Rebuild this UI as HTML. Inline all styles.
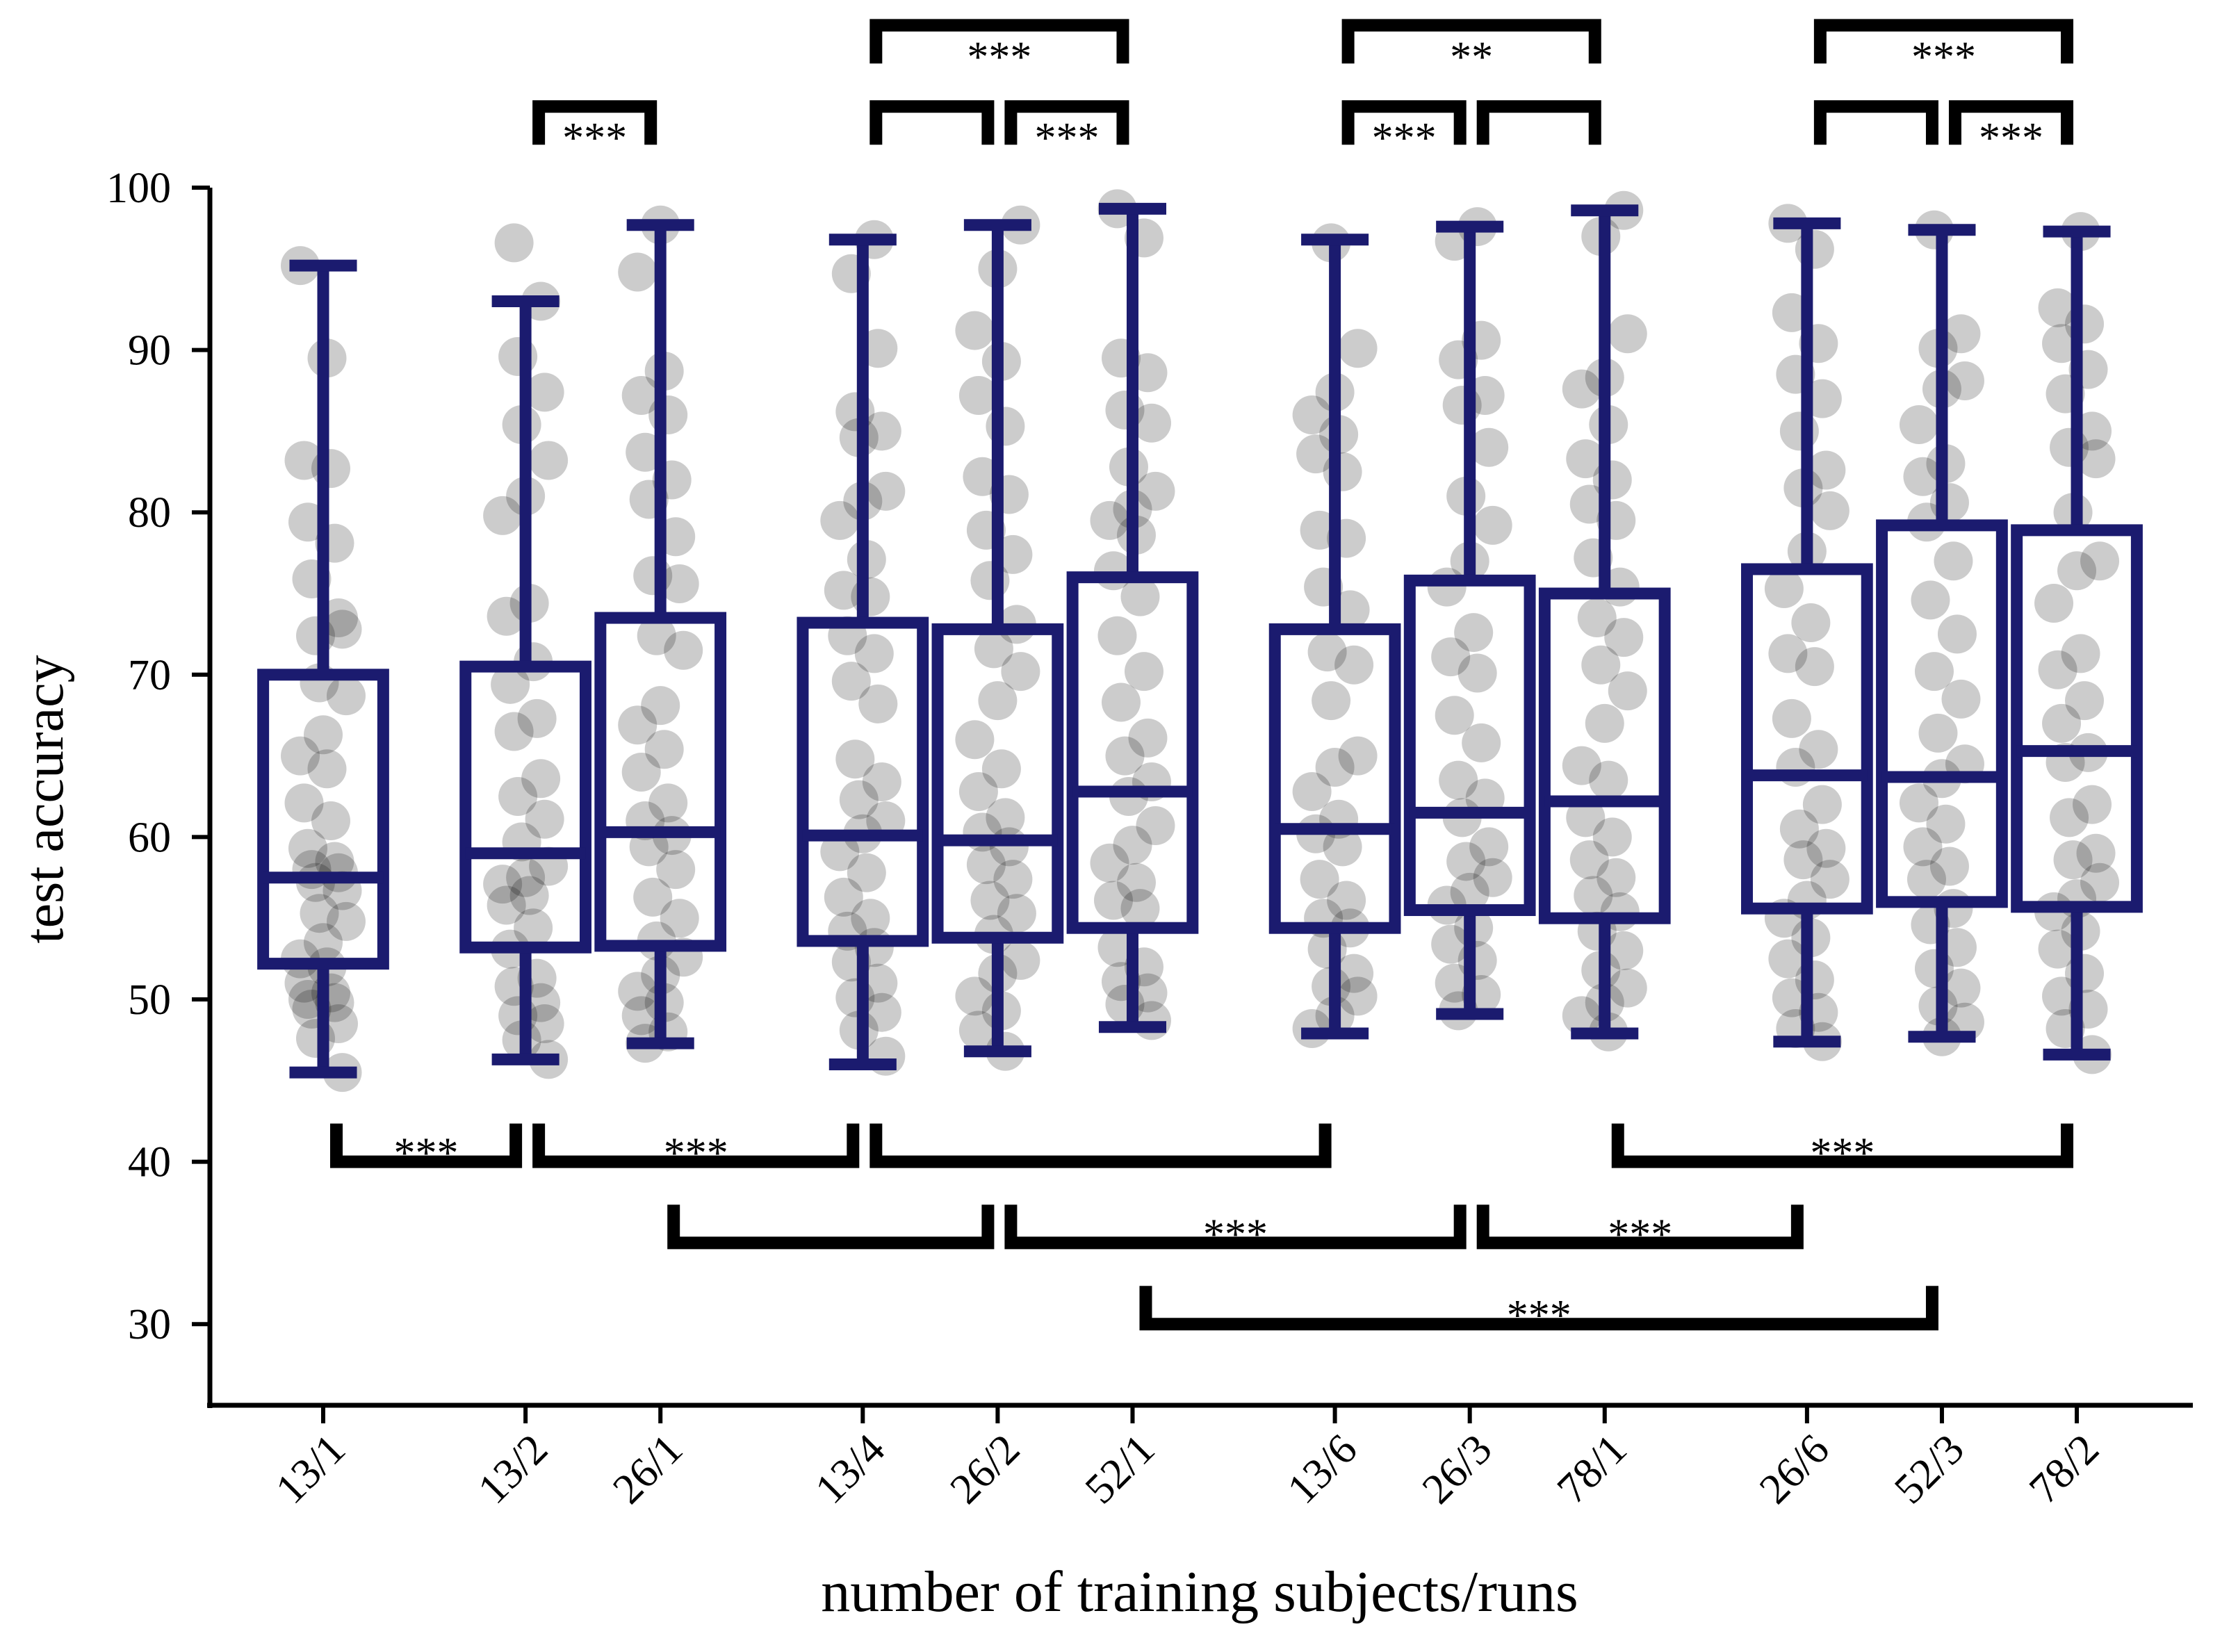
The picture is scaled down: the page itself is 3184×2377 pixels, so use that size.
<!DOCTYPE html>
<html><head><meta charset="utf-8">
<style>
html,body{margin:0;padding:0;background:#fff;}
svg{display:block;font-family:"Liberation Serif",serif;}
</style></head>
<body>
<svg id="chart" xmlns="http://www.w3.org/2000/svg" width="3184" height="2377" viewBox="0 0 3184 2377">
<g id="points"></g>
<g id="boxes"></g>
<g id="brackets"></g>
<g id="axes"></g>
<text x="0" y="0" transform="translate(90,1150) rotate(-90)" text-anchor="middle" font-size="80">test accuracy</text>
<text x="1726" y="2318" text-anchor="middle" font-size="84">number of training subjects/runs</text>
</svg>
<script>
const categories = ["13/1","13/2","26/1","13/4","26/2","52/1","13/6","26/3","78/1","26/6","52/3","78/2"];
const positions = [0,1.5,2.5,4,5,6,7.5,8.5,9.5,11,12,13];
const whiskerLow = [45.5,46.3,47.3,46.0,46.8,48.3,47.9,49.1,47.9,47.4,47.7,46.6];
const q1 = [52.2,53.2,53.3,53.6,53.8,54.4,54.4,55.5,55.0,55.6,56.0,55.7];
const medians = [57.5,59.0,60.3,60.1,59.8,62.8,60.5,61.5,62.2,63.8,63.7,65.3];
const q3 = [70.0,70.5,73.5,73.2,72.8,76.0,72.8,75.8,75.0,76.5,79.2,78.9];
const whiskerHigh = [95.2,93.0,97.7,96.8,97.7,98.7,96.8,97.6,98.6,97.8,97.4,97.3];
const points0 = [95.2,89.5,83.2,82.7,79.4,78.1,75.9,73.5,72.4,72.8,69.5,68.7,66.3,65.0,64.2,62.1,61.0,59.3,58.5,58.0,57.8,57.2,56.7,55.3,54.8,53.5,52.5,52.0,51.0,50.4,50.0,49.8,49.4,48.5,47.6,45.5];
const points1 = [96.6,93.0,89.6,87.4,85.4,83.2,81.0,79.8,74.4,73.6,70.8,69.4,67.3,66.5,63.6,62.5,61.1,59.7,58.2,57.5,57.1,56.4,55.8,54.4,53.1,51.3,50.8,49.8,49.0,48.5,47.5,46.3];
const points2 = [97.7,94.8,88.7,87.2,86.0,83.7,82.0,80.8,78.5,76.1,75.6,72.4,71.5,68.1,66.9,65.4,64.0,62.1,61.0,60.1,59.4,58.0,56.3,55.0,53.6,52.6,51.5,50.5,49.8,49.0,48.0,47.3];
const points3 = [96.8,94.7,90.1,86.2,85.0,84.6,81.3,80.7,79.5,77.1,75.2,74.8,72.4,71.3,69.6,68.2,64.8,63.4,62.3,61.0,60.2,59.1,57.8,56.3,55.0,54.2,53.2,52.3,51.0,50.1,49.2,48.1,46.5];
const points4 = [97.7,95.0,91.2,89.3,87.2,85.3,82.2,81.1,78.9,77.4,75.8,73.1,71.6,70.2,68.4,66.0,64.2,62.8,61.2,60.3,59.4,58.3,57.4,56.1,55.3,54.0,52.4,51.6,50.2,49.3,48.1,46.8];
const points5 = [98.7,96.9,89.5,88.6,86.3,85.5,82.8,81.3,80.2,79.5,78.6,76.4,74.8,72.4,70.2,68.3,66.1,65.0,63.4,62.5,60.7,59.5,58.4,57.2,56.1,55.6,53.2,52.0,51.1,50.4,49.7,48.7];
const points6 = [96.6,90.1,87.4,86.0,84.8,83.6,82.5,78.9,78.4,75.4,74.0,71.4,70.6,68.4,65.0,64.3,62.8,61.1,60.2,59.4,57.4,56.1,55.0,54.4,53.1,51.6,50.8,50.2,49.0,48.2];
const points7 = [97.6,96.7,90.6,89.4,87.2,86.6,84.0,81.0,79.2,77.0,75.4,72.6,71.1,70.1,67.5,65.8,63.5,62.4,61.2,59.4,58.5,57.5,56.6,55.8,54.4,53.4,52.4,51.0,50.3,49.3];
const points8 = [98.6,97.0,91.0,88.3,87.6,85.4,83.3,82.0,80.5,79.5,77.2,75.4,73.5,72.3,70.6,69.0,67.0,64.4,63.5,61.2,60.0,58.6,57.5,56.4,55.4,54.2,53.0,51.8,50.7,49.8,49.0,48.0];
const points9 = [97.8,96.2,92.3,90.4,88.5,87.0,85.0,82.6,81.5,80.1,77.6,75.3,73.2,71.3,70.5,67.3,65.4,64.3,62.0,60.5,59.3,58.6,57.4,56.1,55.0,53.8,52.5,51.2,50.1,49.2,48.2,47.4];
const points10 = [97.4,91.0,90.1,88.1,87.6,85.4,83.0,82.2,80.6,79.4,77.0,74.6,72.5,70.2,68.5,66.4,64.5,63.6,62.1,60.8,59.4,58.2,57.4,55.6,54.6,53.2,51.9,50.7,49.6,48.6,47.7];
const points11 = [97.3,92.6,91.6,90.4,88.8,87.3,85.0,84.0,83.3,80.0,77.0,76.4,74.4,71.3,70.3,68.4,67.0,65.2,64.6,62.0,61.2,59.0,58.6,57.2,56.2,55.4,54.2,53.1,51.6,50.2,49.4,48.2,46.6];
const allPoints = [points0,points1,points2,points3,points4,points5,points6,points7,points8,points9,points10,points11];
const bracketPairs = [[0,1],[1,3],[3,6],[8,11],[2,4],[4,7],[7,9],[5,10],[1,2],[3,4],[4,5],[6,7],[7,8],[9,10],[10,11],[3,5],[6,8],[9,11]];
const bracketLevels = [40,40,40,40,35,35,35,30,105,105,105,105,105,105,105,110,110,110];
const bracketLabels = ["***","***","","***","","***","***","***","***","","***","***","","","***","***","**","***"];
const yTicks = [30,40,50,60,70,80,90,100];

const NS="http://www.w3.org/2000/svg";
const X0=465, U=194.08;
const xs = p => X0 + p*U;
const ys = v => 270 + (100-v)*23.36;
function mk(tag, attrs, parent){const e=document.createElementNS(NS,tag);for(const k in attrs)e.setAttribute(k,attrs[k]);parent.appendChild(e);return e;}
const gP=document.getElementById('points'), gB=document.getElementById('boxes'), gK=document.getElementById('brackets'), gA=document.getElementById('axes');
const NAVY="#1b1b6f";
allPoints.forEach((arr,gi)=>{
  arr.forEach((v,i)=>{
    const jit=(((i*7+gi*3)%13)-6)/6*0.17;
    const c=mk('circle',{cx:xs(positions[gi]+jit),cy:ys(v),r:28,fill:'rgba(0,0,0,0.2)'},gP);
    
    
  });
});
categories.forEach((cat,i)=>{
  const cx=xs(positions[i]), hw=0.445*U, cw=0.25*U;
  const g=mk('g',{},gB);
  
  
  const st={stroke:NAVY,'stroke-width':17,fill:'none'};
  mk('line',Object.assign({x1:cx,x2:cx,y1:ys(q3[i]),y2:ys(whiskerHigh[i])},st),g);
  mk('line',Object.assign({x1:cx,x2:cx,y1:ys(q1[i]),y2:ys(whiskerLow[i])},st),g);
  mk('line',Object.assign({x1:cx-cw,x2:cx+cw,y1:ys(whiskerHigh[i]),y2:ys(whiskerHigh[i])},st),g);
  mk('line',Object.assign({x1:cx-cw,x2:cx+cw,y1:ys(whiskerLow[i]),y2:ys(whiskerLow[i])},st),g);
  mk('rect',Object.assign({x:cx-hw,y:ys(q3[i]),width:2*hw,height:ys(q1[i])-ys(q3[i])},st),g);
  mk('line',Object.assign({x1:cx-hw,x2:cx+hw,y1:ys(medians[i]),y2:ys(medians[i])},st),g);
});
bracketPairs.forEach((pr,i)=>{
  const lv=bracketLevels[i], top=lv>100;
  const xa=xs(positions[pr[0]])+19, xb=xs(positions[pr[1]])-14;
  const y=ys(lv), yl=top? y+55 : y-55;
  const g=mk('g',{},gK);
  
  
  mk('path',{d:`M${xa},${yl} L${xa},${y} L${xb},${y} L${xb},${yl}`,stroke:'#000','stroke-width':18,fill:'none','stroke-linejoin':'miter'},g);
  if(bracketLabels[i]){
    const t=mk('text',{x:(xa+xb)/2,y:top? y+66 : y+8,'text-anchor':'middle','font-size':62},g);
    t.textContent=bracketLabels[i];
    
    
  }
});
const ya=mk('line',{x1:302,x2:302,y1:270,y2:2026,stroke:'#000','stroke-width':7},gA);


const xa=mk('line',{x1:298,x2:3155,y1:2022,y2:2022,stroke:'#000','stroke-width':7},gA);


yTicks.forEach(v=>{
  mk('line',{x1:276,x2:302,y1:ys(v),y2:ys(v),stroke:'#000','stroke-width':6},gA);
  const t=mk('text',{x:246,y:ys(v)+21,'text-anchor':'end','font-size':62},gA);
  t.textContent=v;
  
  
});
categories.forEach((c,i)=>{
  const x=xs(positions[i]);
  mk('line',{x1:x,x2:x,y1:2022,y2:2048,stroke:'#000','stroke-width':6},gA);
  const t=mk('text',{x:0,y:0,transform:`translate(${x-14},${2118}) rotate(-45)`,'text-anchor':'middle','font-size':62,'dominant-baseline':'middle'},gA);
  t.textContent=c;
  
  
});
</script>
</body></html>
